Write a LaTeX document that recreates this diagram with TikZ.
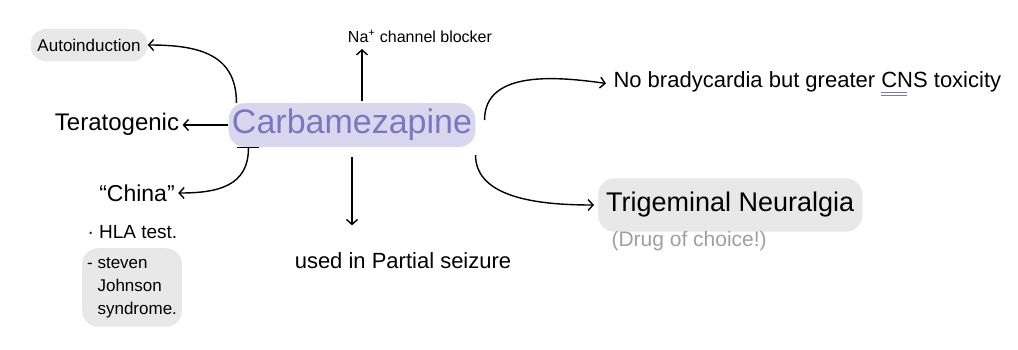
\documentclass[tikz,border=0pt]{standalone}
\usepackage{fontspec}
\setmainfont{Liberation Sans}
\usetikzlibrary{arrows.meta,positioning}
\definecolor{carbInk}{HTML}{7D77C2}
\definecolor{carbGlow}{HTML}{D9D6EE}
\definecolor{noteGray}{HTML}{E8E8E8}
\definecolor{pencilGray}{HTML}{A0A0A0}
\newcommand{\dblul}[1]{\setbox0\hbox{#1}%
  \rlap{\textcolor{carbInk}{\rule[-6pt]{.55\wd0}{1pt}}}%
  \rlap{\textcolor{carbInk}{\rule[-9pt]{.55\wd0}{1pt}}}#1}

\begin{document}
\begin{tikzpicture}[x=1pt,y=1pt,
    >={Straight Barb[length=5pt,width=11pt]},
    hl/.style={fill=noteGray,rounded corners=16pt},
    link/.style={line width=1.4pt,->}]
  \fill[white] (0,0) rectangle (1018,-349);
  % centre word
  \node[fill=carbGlow,rounded corners=16pt,text=carbInk,inner ysep=6pt,
        font=\fontsize{34}{40}\selectfont] (carb) at (352,-125) {Carbamezapine};
  % left side
  \node[hl,inner xsep=7pt,inner ysep=10pt,font=\fontsize{17}{20}\selectfont] (auto) at (89,-45) {Autoinduction};
  \node[font=\fontsize{24}{28}\selectfont] (terat) at (117,-124) {Teratogenic};
  \node[font=\fontsize{23}{27}\selectfont] (china) at (137,-193) {``China''};
  \node[anchor=west,font=\fontsize{19}{22}\selectfont] (hla) at (84,-232) {· HLA test.};
  \node[hl,anchor=north west,align=left,inner xsep=5pt,inner ysep=9pt,
        font=\fontsize{17}{23}\selectfont] (sjs) at (82,-248)
        {- steven\\\phantom{- }Johnson\\\phantom{- }syndrome.};
  % top and bottom
  \node[font=\fontsize{16}{19}\selectfont] (na) at (420,-36) {Na\textsuperscript{+} channel blocker};
  \node[font=\fontsize{22}{26}\selectfont] (used) at (403,-261) {used in Partial seizure};
  % right side
  \node[anchor=west,font=\fontsize{22}{26}\selectfont] (nobrad) at (610,-84)
        {No bradycardia but greater \dblul{CNS} toxicity};
  \node[hl,anchor=west,inner xsep=8pt,inner ysep=14pt,font=\fontsize{27}{31}\selectfont] (trig) at (598,-205)
        {Trigeminal Neuralgia};
  \node[anchor=north west,text=pencilGray,font=\fontsize{21}{25}\selectfont] (doc) at (608,-228)
        {(Drug of choice!)};

  \draw[link] ([xshift=8pt]carb.north west) to[out=90,in=0,looseness=1.2] (auto.east);
  \draw[link] (carb.west) -- (carb.west -| terat.east);
  \draw[link,{Bar[width=22pt]}->] ([xshift=20pt]carb.south west) to[out=-90,in=0,looseness=1.2] (china.east);
  \draw[link,shorten <=2pt,shorten >=3pt] ([xshift=10pt]carb.north) -- ([xshift=10pt]carb.north |- na.south);
  \draw[link,shorten <=10pt,shorten >=24pt] (carb.south) -- (carb.south |- used.north);
  \draw[link,shorten >=4pt] ([xshift=9pt,yshift=5pt]carb.east) to[out=90,in=172] (nobrad.west);
  \draw[link,shorten <=8pt,shorten >=4pt] (carb.south east) to[out=-90,in=180] (trig.west);
\end{tikzpicture}
\end{document}
